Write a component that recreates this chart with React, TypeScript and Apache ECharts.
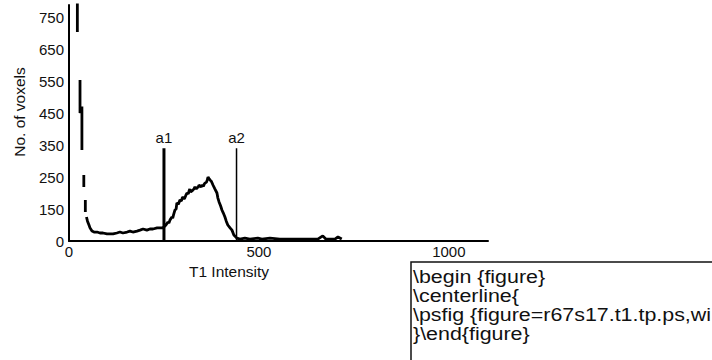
import React, { useEffect, useRef } from "react";
import * as echarts from "echarts";

// Histogram curve: [T1 intensity, no. of voxels]; null y = gap in the drawn line
const curve: Array<[number, number | null]> = [
  [22, 795], [22, 703], [24, null],
  [29, 553], [29, 450], [34, 470], [34, 334], [36, null],
  [39, 256], [39, 219], [41, null],
  [43, 178], [43, 141], [45, null],
  [46, 125], [48.7, 112], [52.6, 100], [55.3, 91], [60.5, 81], [65.8, 78],
  [73.7, 78], [81.6, 75], [89.5, 75], [100, 72], [108, 72], [116, 72],
  [126, 75], [134, 78], [142, 75], [153, 78], [160.5, 81], [168, 78],
  [179, 81], [187, 84], [195, 87.5], [205, 84], [213, 87.5], [221, 87.5],
  [232, 91], [239.5, 91], [247, 91], [252.6, 97], [257, 103], [260.5, 109],
  [263, 106], [266, 116], [271, 125], [273, 121], [275, 131], [279, 147],
  [282, 150], [284, 169], [288, 165], [290, 172], [292, 178], [296, 175],
  [298, 184], [300, 187.5], [303, 182], [305, 185], [308, 194], [310.5, 200],
  [314, 197], [316, 206], [318, 212.5], [320, 203], [322, 205], [326, 209],
  [329, 213], [331.6, 219], [335, 212], [337, 218], [339.5, 216], [342, 224],
  [345, 222], [348, 219], [350, 225], [354, 221], [356, 228], [358, 231],
  [362, 234], [364, 241], [366, 250], [369, 244], [371, 241], [375, 236],
  [379, 225], [384, 213], [389.5, 200], [392, 184], [395, 172], [399, 160],
  [402.6, 147], [406, 138], [410.5, 125], [414, 112], [418, 100], [424, 91],
  [429, 84], [434, 69], [442, 59], [450, 56], [463, 59], [476, 56], [497, 59],
  [508, 56], [529, 59], [555, 56], [582, 56], [608, 56], [634, 56], [655, 56],
  [668, 66], [676, 56], [700, 56], [708, 62.5], [718, 56],
];

// Threshold markers
const markerNames = ["a1", "a2"];
const markerX = [250, 441];
const markerTop = 340;
const markerWidths = [3, 1.5];

// Axis ticks
const yTickLabels: Record<number, string> = {
  50: "0", 150: "150", 250: "250", 350: "350", 450: "450", 550: "550", 650: "650", 750: "750",
};
const xTickLabels: Record<number, string> = { 0: "0", 500: "500", 1000: "1000" };

const yTitle = "No. of voxels";
const xTitle = "T1 Intensity";
const boxLines = [
  "\\begin {figure}",
  "\\centerline{",
  "\\psfig {figure=r67s17.t1.tp.ps,wi",
  "}\\end{figure}",
];

const FONT = '"Liberation Sans", Arial, Helvetica, sans-serif';

export default function App() {
  const ref = useRef<HTMLDivElement>(null);
  useEffect(() => {
    if (!ref.current) return;
    const chart = echarts.init(ref.current, undefined, { renderer: "svg" });
    const markerSeries = markerNames.map((name, i) => ({
      type: "line",
      name,
      data: [
        [markerX[i], 50],
        {
          value: [markerX[i], markerTop],
          label: { show: true, position: "top", formatter: name, distance: 3 },
        },
      ],
      symbol: "circle",
      symbolSize: 0,
      showSymbol: true,
      lineStyle: { color: "#000", width: markerWidths[i] },
      label: { color: "#111", fontSize: 15, fontFamily: FONT },
      z: 3,
    }));
    chart.setOption({
      animation: false,
      backgroundColor: "#fff",
      grid: { left: 69, top: 5, width: 419, height: 236, containLabel: false },
      xAxis: {
        type: "value",
        min: 0,
        max: 1103,
        interval: 500,
        splitLine: { show: false },
        axisTick: { show: false },
        axisLine: { show: true, lineStyle: { color: "#000", width: 2 } },
        axisLabel: {
          color: "#111",
          fontSize: 15,
          fontFamily: FONT,
          margin: 3,
          showMaxLabel: false,
          formatter: (v: number) => xTickLabels[v] ?? "",
        },
      },
      yAxis: {
        type: "value",
        min: 50,
        max: 787.5,
        interval: 100,
        splitLine: { show: false },
        axisTick: { show: false },
        axisLine: { show: true, lineStyle: { color: "#000", width: 2 } },
        axisLabel: {
          color: "#111",
          fontSize: 15,
          fontFamily: FONT,
          margin: 5,
          showMaxLabel: false,
          formatter: (v: number) => yTickLabels[v] ?? "",
        },
      },
      series: [
        {
          type: "line",
          data: curve,
          symbol: "none",
          connectNulls: false,
          clip: true,
          lineStyle: { color: "#000", width: 2.8 },
          z: 2,
        },
        ...markerSeries,
      ],
      graphic: [
        {
          type: "text",
          x: 19,
          y: 112,
          rotation: Math.PI / 2,
          style: {
            text: yTitle,
            fill: "#111",
            font: `15.5px ${FONT}`,
            align: "center",
            verticalAlign: "middle",
          },
        },
        {
          type: "text",
          x: 229,
          y: 271,
          style: {
            text: xTitle,
            fill: "#111",
            font: `15.5px ${FONT}`,
            align: "center",
            verticalAlign: "middle",
          },
        },
        {
          type: "rect",
          shape: { x: 411, y: 262, width: 330, height: 120 },
          style: { fill: "#fff", stroke: "#111", lineWidth: 1.5 },
        },
        ...boxLines.map((t, i) => ({
          type: "text",
          x: 413,
          y: 277 + i * 19,
          scaleX: 1.19,
          style: {
            text: t,
            fill: "#111",
            font: `18px ${FONT}`,
            align: "left",
            verticalAlign: "middle",
          },
        })),
      ],
    });
    return () => chart.dispose();
  }, []);
  return (
    <div
      ref={ref}
      style={{ position: "fixed", left: 0, top: 0, width: 712, height: 360 }}
    />
  );
}
